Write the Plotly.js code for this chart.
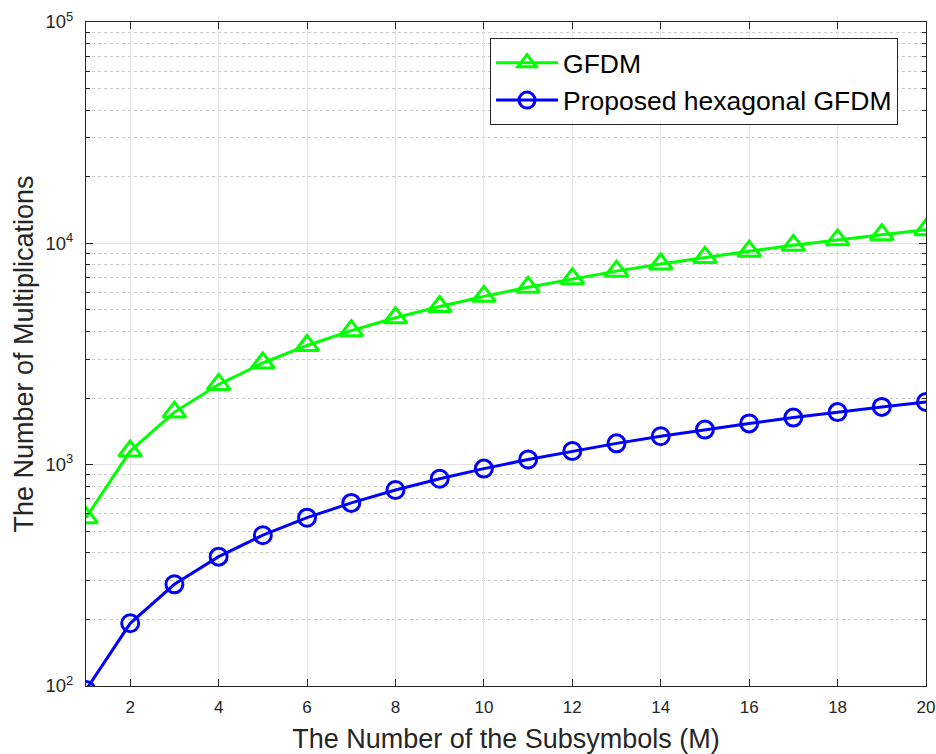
<!DOCTYPE html>
<html>
<head>
<meta charset="utf-8">
<script src="https://cdn.plot.ly/plotly-3.0.1.min.js"></script>
<style>html,body{margin:0;padding:0;background:#fff;}#chart{width:936px;height:754px;}</style>
</head>
<body>
<div id="chart"></div>
<script>
const M = [1,2,3,4,5,6,7,8,9,10,11,12,13,14,15,16,17,18,19,20];
const gfdm = [576,1152,1728,2304,2880,3456,4032,4608,5184,5760,6336,6912,7488,8064,8640,9216,9792,10368,10944,11520];
const hexGfdm = [96,192,288,384,480,576,672,768,864,960,1056,1152,1248,1344,1440,1536,1632,1728,1824,1920];
const xTicks = [2,4,6,8,10,12,14,16,18,20];
const yTicks = [100,1000,10000,100000];
const yTickText = ['10<sup>2</sup>','10<sup>3</sup>','10<sup>4</sup>','10<sup>5</sup>'];

// minor tick positions on the log axis (2..9 x each decade)
const yMinor = [];
for (const dec of [100, 1000, 10000]) {
  for (let d = 2; d <= 9; d++) yMinor.push(d * dec);
}

const font = 'Liberation Sans, Arial, Helvetica, sans-serif';
const traces = [
  {x: M, y: gfdm, name: 'GFDM', type: 'scatter', mode: 'lines+markers',
   line: {color: '#00ff00', width: 3},
   marker: {symbol: 'triangle-up-open', size: 20, color: '#00ff00', line: {width: 3, color: '#00ff00'}}},
  {x: M, y: hexGfdm, name: 'Proposed hexagonal GFDM', type: 'scatter', mode: 'lines+markers',
   line: {color: '#0000ff', width: 3},
   marker: {symbol: 'circle-open', size: 17, color: '#0000ff', line: {width: 3, color: '#0000ff'}}}
];
const layout = {
  width: 936, height: 754,
  margin: {l: 86, r: 10, t: 22, b: 68},
  paper_bgcolor: '#fff', plot_bgcolor: '#fff',
  font: {family: font, color: '#262626'},
  showlegend: true,
  legend: {x: 0.481, y: 0.976, xanchor: 'left', yanchor: 'top',
    bgcolor: '#fff', bordercolor: '#262626', borderwidth: 1, itemwidth: 62,
    font: {size: 26.5, color: '#000', family: font}, tracegroupgap: 0},
  xaxis: {range: [1, 20], tickmode: 'array', tickvals: xTicks, ticks: 'inside', ticklen: 7, tickcolor: '#262626',
    showline: true, linecolor: '#262626', linewidth: 1, mirror: 'allticks',
    showgrid: true, gridcolor: '#e3e3e3', gridwidth: 1, zeroline: false,
    tickfont: {size: 17, color: '#262626'}, ticklabelstandoff: 6, ticklabeloverflow: 'allow',
    title: {text: 'The Number of the Subsymbols (M)', font: {size: 27, color: '#262626'}, standoff: 12}},
  yaxis: {type: 'log', range: [2, 5], tickmode: 'array', tickvals: yTicks, ticktext: yTickText,
    ticks: 'inside', ticklen: 7, tickcolor: '#262626',
    showline: true, linecolor: '#262626', linewidth: 1, mirror: 'allticks',
    showgrid: true, gridcolor: '#e3e3e3', gridwidth: 1, zeroline: false,
    tickfont: {size: 18.5, color: '#262626'}, ticklabelstandoff: 8, ticklabeloverflow: 'allow',
    minor: {tickmode: 'array', tickvals: yMinor, showgrid: true, gridcolor: '#c8c8c8', griddash: 'dot', gridwidth: 1,
      ticks: 'inside', ticklen: 4, tickcolor: '#262626'},
    title: {text: 'The Number of Multiplications', font: {size: 27, color: '#262626'}, standoff: 4}}
};
Plotly.newPlot('chart', traces, layout, {displayModeBar: false, staticPlot: true});
</script>
</body>
</html>
